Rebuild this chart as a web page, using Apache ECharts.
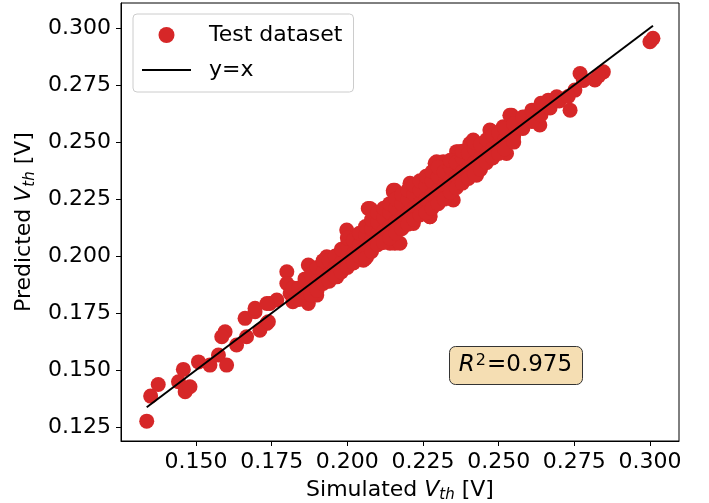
<!DOCTYPE html>
<html>
<head>
<meta charset="utf-8">
<script src="https://cdn.jsdelivr.net/npm/echarts@6/dist/echarts.min.js"></script>
<style>
  html, body { margin: 0; padding: 0; background: #fff; }
  #main { width: 709px; height: 503px; }
</style>
</head>
<body>
<div id="main"></div>
<script>
// 数据：仿真 Vth 与预测 Vth
var simulated = [
  0.1337, 0.1350, 0.1375, 0.1442, 0.1458, 0.1464, 0.1480, 0.1508, 0.1546, 0.1574,
  0.1601, 0.1596, 0.1585, 0.1634, 0.1662, 0.1667, 0.1695, 0.1734, 0.1744, 0.1767,
  0.1711, 0.1695, 0.1734, 0.1739, 0.1800, 0.1800, 0.1811, 0.1871, 0.1871, 0.1899,
  0.1932, 0.1965, 0.1998, 0.2020, 0.2053, 0.2069, 0.2080, 0.2119, 0.2141, 0.2152,
  0.2080, 0.2108, 0.2152, 0.2157, 0.2207, 0.2218, 0.2273, 0.2290, 0.2317, 0.2339,
  0.2367, 0.2405, 0.2405, 0.2449, 0.2471, 0.2460, 0.2515, 0.2526, 0.2543, 0.2548,
  0.2537, 0.2592, 0.2636, 0.2664, 0.2692, 0.2736, 0.2752, 0.2769, 0.2818, 0.2846,
  0.3000, 0.3010, 0.2064, 0.2174, 0.2273, 0.2350, 0.2427, 0.2075, 0.2157, 0.2295,
  0.2361, 0.2416, 0.2477,
  0.182, 0.182, 0.184, 0.184, 0.186, 0.186, 0.188, 0.188, 0.188, 0.190,
  0.190, 0.190, 0.192, 0.192, 0.192, 0.194, 0.194, 0.194, 0.196, 0.196,
  0.196, 0.198, 0.198, 0.198, 0.200, 0.200, 0.200, 0.200, 0.202, 0.202,
  0.202, 0.204, 0.204, 0.204, 0.206, 0.206, 0.206, 0.206, 0.208, 0.208,
  0.208, 0.208, 0.210, 0.210, 0.210, 0.210, 0.212, 0.212, 0.212, 0.212,
  0.214, 0.214, 0.214, 0.214, 0.216, 0.216, 0.216, 0.216, 0.218, 0.218,
  0.218, 0.218, 0.220, 0.220, 0.220, 0.220, 0.222, 0.222, 0.222, 0.222,
  0.224, 0.224, 0.224, 0.224, 0.226, 0.226, 0.226, 0.226, 0.228, 0.228,
  0.228, 0.228, 0.230, 0.230, 0.230, 0.230, 0.232, 0.232, 0.232, 0.234,
  0.234, 0.234, 0.234, 0.236, 0.236, 0.236, 0.238, 0.238, 0.238, 0.238,
  0.240, 0.240, 0.240, 0.242, 0.242, 0.242, 0.242, 0.244, 0.244, 0.244,
  0.246, 0.246, 0.246, 0.248, 0.248, 0.248, 0.250, 0.250, 0.250, 0.252,
  0.252, 0.252, 0.255, 0.255, 0.255, 0.258, 0.258, 0.261, 0.261, 0.264,
  0.264, 0.267, 0.270, 0.273, 0.278, 0.283
];
var predicted = [
  0.1276, 0.1386, 0.1437, 0.1449, 0.1503, 0.1405, 0.1427, 0.1536, 0.1522, 0.1566,
  0.1522, 0.1668, 0.1646, 0.1610, 0.1727, 0.1646, 0.1756, 0.1705, 0.1792, 0.1807,
  0.1675, 0.1771, 0.1792, 0.1712, 0.1931, 0.1880, 0.1836, 0.1961, 0.1792, 0.1829,
  0.1997, 0.1909, 0.2114, 0.2041, 0.1982, 0.2209, 0.2114, 0.2143, 0.2056, 0.2282,
  0.2202, 0.2128, 0.2289, 0.2056, 0.2319, 0.2143, 0.2173, 0.2407, 0.2414, 0.2260,
  0.2458, 0.2377, 0.2494, 0.2421, 0.2553, 0.2494, 0.2567, 0.2450, 0.2618, 0.2516,
  0.2618, 0.2611, 0.2575, 0.2684, 0.2699, 0.2640, 0.2728, 0.2801, 0.2772, 0.2808,
  0.2940, 0.2955, 0.1997, 0.2056, 0.2173, 0.2246, 0.2355, 0.2209, 0.2289, 0.2414,
  0.2458, 0.2509, 0.2546,
  0.180, 0.186, 0.186, 0.181, 0.184, 0.190, 0.187, 0.183, 0.192, 0.189,
  0.185, 0.195, 0.193, 0.188, 0.198, 0.192, 0.198, 0.189, 0.195, 0.200,
  0.191, 0.197, 0.203, 0.193, 0.200, 0.205, 0.195, 0.208, 0.201, 0.207,
  0.197, 0.205, 0.210, 0.200, 0.204, 0.209, 0.213, 0.199, 0.207, 0.212,
  0.216, 0.202, 0.210, 0.215, 0.205, 0.219, 0.211, 0.217, 0.206, 0.221,
  0.213, 0.219, 0.208, 0.223, 0.215, 0.221, 0.210, 0.225, 0.217, 0.223,
  0.212, 0.227, 0.219, 0.225, 0.214, 0.229, 0.221, 0.227, 0.216, 0.231,
  0.223, 0.229, 0.218, 0.233, 0.225, 0.231, 0.219, 0.235, 0.227, 0.233,
  0.221, 0.237, 0.229, 0.235, 0.223, 0.239, 0.231, 0.237, 0.225, 0.233,
  0.239, 0.228, 0.242, 0.235, 0.241, 0.230, 0.237, 0.243, 0.232, 0.246,
  0.239, 0.245, 0.234, 0.241, 0.247, 0.236, 0.250, 0.243, 0.249, 0.238,
  0.245, 0.251, 0.241, 0.247, 0.253, 0.243, 0.249, 0.254, 0.245, 0.251,
  0.256, 0.247, 0.253, 0.258, 0.250, 0.256, 0.261, 0.259, 0.264, 0.262,
  0.267, 0.265, 0.268, 0.270, 0.277, 0.279
];
var xTicks = [0.150, 0.175, 0.200, 0.225, 0.250, 0.275, 0.300];
var yTicks = [0.125, 0.150, 0.175, 0.200, 0.225, 0.250, 0.275, 0.300];
var r2Value = 0.975;

(function () {
  var font = 'DejaVu Sans';
  var points = simulated.map(function (v, i) { return [v, predicted[i]]; });
  var lo = Math.min.apply(null, simulated);
  var hi = Math.max.apply(null, simulated);

  var nameRich = {
    n: { fontFamily: font, fontSize: 22, color: '#000', lineHeight: 30 },
    i: { fontFamily: font, fontSize: 22, fontStyle: 'italic', color: '#000', lineHeight: 30 },
    s: { fontFamily: font, fontSize: 15, fontStyle: 'italic', color: '#000', lineHeight: 30, padding: [10, 0, 0, 0] }
  };
  var tickFmt = function (v) { return v.toFixed(3); };

  var option = {
    animation: false,
    grid: {
      left: 121, right: 30, top: 3, bottom: 62, outerBoundsMode: 'none',
      show: true, borderColor: '#000', borderWidth: 1
    },
    xAxis: {
      type: 'value', min: 0.1252, max: 0.3096,
      name: '{n|Simulated }{i|V}{s|th}{n| [V]}', nameLocation: 'middle', nameGap: 28,
      nameTextStyle: { rich: nameRich },
      axisLine: { show: true, onZero: false, lineStyle: { color: '#000', width: 1 } },
      axisTick: { show: true, length: 5, customValues: xTicks, lineStyle: { color: '#000' } },
      axisLabel: { customValues: xTicks, formatter: tickFmt, fontFamily: font, fontSize: 22, color: '#000', margin: 10 },
      splitLine: { show: false }
    },
    yAxis: {
      type: 'value', min: 0.1189, max: 0.3110,
      name: '{n|Predicted }{i|V}{s|th}{n| [V]}', nameLocation: 'middle', nameGap: 71,
      nameTextStyle: { rich: nameRich },
      axisLine: { show: true, onZero: false, lineStyle: { color: '#000', width: 1 } },
      axisTick: { show: true, length: 5, customValues: yTicks, lineStyle: { color: '#000' } },
      axisLabel: { customValues: yTicks, formatter: tickFmt, fontFamily: font, fontSize: 22, color: '#000', margin: 10 },
      splitLine: { show: false }
    },
    legend: {
      orient: 'vertical', left: 133, top: 14,
      padding: [10, 11, 11, 9], itemWidth: 49, itemHeight: 16, itemGap: 13,
      backgroundColor: 'rgba(255,255,255,0.8)', borderColor: '#cccccc', borderWidth: 1, borderRadius: 4,
      textStyle: { fontFamily: font, fontSize: 22, color: '#000', padding: [0, 0, 0, 13] },
      data: [
        { name: 'Test dataset', icon: 'circle' },
        { name: 'y=x', icon: 'path://M0,0H49V2H0Z' }
      ]
    },
    graphic: [{
      type: 'group', left: 449, top: 346,
      children: [{
        type: 'rect', shape: { x: 0, y: 0, width: 133, height: 38, r: 6 },
        style: { fill: '#f5deb3', stroke: '#333', lineWidth: 1 }
      }, {
        type: 'text', x: 66, y: 19,
        style: {
          text: '{i|R}{p|2}{n|=' + r2Value.toFixed(3) + '}',
          align: 'center', verticalAlign: 'middle',
          rich: {
            n: { fontFamily: font, fontSize: 23, color: '#000', lineHeight: 28 },
            i: { fontFamily: font, fontSize: 23, fontStyle: 'italic', color: '#000', lineHeight: 28 },
            p: { fontFamily: font, fontSize: 16, color: '#000', lineHeight: 28, padding: [0, 1, 10, 1] }
          }
        }
      }]
    }],
    series: [{
      name: 'Test dataset', type: 'scatter', data: points,
      symbol: 'circle', symbolSize: 15,
      itemStyle: { color: '#d62728', opacity: 1 }, z: 2
    }, {
      name: 'y=x', type: 'line', data: [[lo, lo], [hi, hi]],
      symbol: 'none', itemStyle: { color: '#000' },
      lineStyle: { color: '#000', width: 2 }, z: 3
    }]
  };

  var myChart = echarts.init(document.getElementById('main'));
  myChart.setOption(option);
})();
</script>
</body>
</html>
